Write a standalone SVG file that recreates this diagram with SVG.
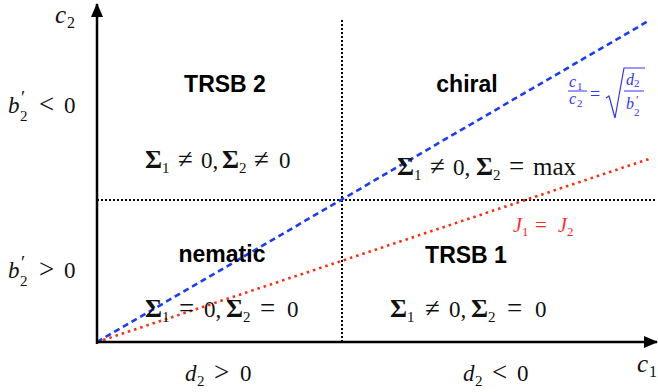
<svg xmlns="http://www.w3.org/2000/svg" width="658" height="392" viewBox="0 0 658 392">
<style>
.m{font-family:"Liberation Serif","DejaVu Serif",serif;font-size:23px;fill:#111}
.i{font-style:italic}
.b{font-weight:bold;font-size:26px}
.s{font-size:15px}
.r{font-size:27px}
.p{font-size:19px}
.lab{font-family:"Liberation Sans",Arial,sans-serif;font-weight:bold;font-size:23px;fill:#000;text-anchor:middle}
.axis{stroke:#000;stroke-width:2.5;fill:none}
.grid{stroke:#000;stroke-width:2;stroke-dasharray:2,2;fill:none}
</style>
<defs>
<marker id="ah" viewBox="0 0 14 12" refX="13" refY="6" markerWidth="14" markerHeight="12" markerUnits="userSpaceOnUse" orient="auto"><path d="M0,0 L14,6 L0,12 Z" fill="#000"/></marker>
</defs>
<rect width="658" height="392" fill="#fff"/>
<g id="connectors">
<line class="grid" x1="342" y1="20" x2="342" y2="342"/>
<line class="grid" x1="97" y1="200" x2="656" y2="200"/>
<line x1="97" y1="342" x2="650" y2="20" stroke="#1a3cf5" stroke-width="2.6" stroke-dasharray="6,4"/>
<line x1="97" y1="342" x2="652" y2="158" stroke="#ff2a10" stroke-width="2.6" stroke-dasharray="2.5,4"/>
<line class="axis" x1="97" y1="344" x2="97" y2="4" marker-end="url(#ah)"/>
<line class="axis" x1="96" y1="342" x2="657" y2="342" marker-end="url(#ah)"/>
</g>
<g id="axis-labels">
<text class="m" style="font-size:25px"><tspan class="i" x="55" y="23">c</tspan><tspan x="67" y="28" style="font-size:16px">2</tspan></text>
<text class="m" style="font-size:25px"><tspan class="i" x="637" y="372">c</tspan><tspan x="649" y="377" style="font-size:16px">1</tspan></text>
<text class="m"><tspan class="i" x="8" y="113">b</tspan><tspan x="21" y="104" class="p">′</tspan><tspan x="20" y="121" class="s">2</tspan><tspan x="39" y="113" class="r">&lt;</tspan><tspan x="64" y="113">0</tspan></text>
<text class="m"><tspan class="i" x="8" y="278">b</tspan><tspan x="21" y="269" class="p">′</tspan><tspan x="20" y="286" class="s">2</tspan><tspan x="39" y="278" class="r">&gt;</tspan><tspan x="64" y="278">0</tspan></text>
<text class="m"><tspan class="i" x="185" y="381">d</tspan><tspan x="197" y="386" class="s">2</tspan><tspan x="214" y="381" class="r">&gt;</tspan><tspan x="240" y="381">0</tspan></text>
<text class="m"><tspan class="i" x="463" y="381">d</tspan><tspan x="475" y="386" class="s">2</tspan><tspan x="492" y="381" class="r">&lt;</tspan><tspan x="517" y="381">0</tspan></text>
</g>
<g id="trsb2">
<text class="lab" x="225" y="92">TRSB 2</text>
<text class="m"><tspan class="b" x="145" y="168">Σ</tspan><tspan x="162" y="173" class="s">1</tspan><tspan x="178" y="168" class="r">≠</tspan><tspan x="201" y="168">0,</tspan><tspan class="b" x="222" y="168">Σ</tspan><tspan x="239" y="173" class="s">2</tspan><tspan x="254" y="168" class="r">≠</tspan><tspan x="279" y="168">0</tspan></text>
</g>
<g id="chiral">
<text class="lab" x="467" y="92">chiral</text>
<text class="m"><tspan class="b" x="397" y="175">Σ</tspan><tspan x="414" y="180" class="s">1</tspan><tspan x="430" y="175" class="r">≠</tspan><tspan x="453" y="175">0,</tspan><tspan class="b" x="476" y="175">Σ</tspan><tspan x="493" y="180" class="s">2</tspan><tspan x="509" y="175" class="r">=</tspan><tspan x="533" y="175" style="font-size:25px">max</tspan></text>
</g>
<g id="nematic">
<text class="lab" x="222" y="262">nematic</text>
<text class="m"><tspan class="b" x="145" y="317">Σ</tspan><tspan x="162" y="322" class="s">1</tspan><tspan x="179" y="317" class="r">=</tspan><tspan x="204" y="317">0,</tspan><tspan class="b" x="226" y="317">Σ</tspan><tspan x="243" y="322" class="s">2</tspan><tspan x="260" y="317" class="r">=</tspan><tspan x="287" y="317">0</tspan></text>
</g>
<g id="trsb1">
<text class="lab" x="466" y="263">TRSB 1</text>
<text class="m"><tspan class="b" x="390" y="317">Σ</tspan><tspan x="407" y="322" class="s">1</tspan><tspan x="425" y="317" class="r">≠</tspan><tspan x="449" y="317">0,</tspan><tspan class="b" x="471" y="317">Σ</tspan><tspan x="488" y="322" class="s">2</tspan><tspan x="507" y="317" class="r">=</tspan><tspan x="535" y="317">0</tspan></text>
</g>
<g id="j-label">
<text class="m" style="fill:#ff2a2a;font-size:20px"><tspan class="i" x="513" y="232">J</tspan><tspan x="522" y="236" style="font-size:13px">1</tspan><tspan x="535" y="232" style="font-size:21px">=</tspan><tspan class="i" x="558" y="232">J</tspan><tspan x="567" y="236" style="font-size:13px">2</tspan></text>
</g>
<g id="ratio-label">
<text class="m" style="fill:#3333ff;font-size:16px"><tspan class="i" x="569" y="87">c</tspan><tspan x="577" y="90" style="font-size:11px">1</tspan><tspan class="i" x="569" y="104">c</tspan><tspan x="577" y="107" style="font-size:11px">2</tspan><tspan x="590" y="100" style="font-size:18px">=</tspan><tspan class="i" x="626" y="85">d</tspan><tspan x="634" y="87" style="font-size:11px">2</tspan><tspan class="i" x="626" y="109">b</tspan><tspan x="636" y="104" style="font-size:12px">′</tspan><tspan x="634" y="116" style="font-size:11px">2</tspan></text>
<line x1="568" y1="91" x2="587" y2="91" stroke="#3333ff" stroke-width="1"/>
<line x1="624" y1="91" x2="644" y2="91" stroke="#3333ff" stroke-width="1"/>
<path d="M606,98 L609,96 L615,118 L624,68 L645,68" fill="none" stroke="#3333ff" stroke-width="1.2"/>
</g>
</svg>
